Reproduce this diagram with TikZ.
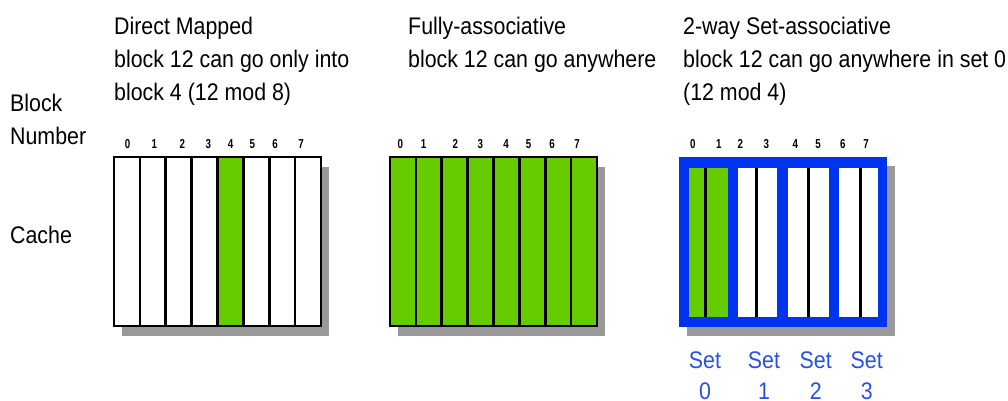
\documentclass[tikz,border=0pt]{standalone}
\usepackage{fontspec}
\setmainfont{Liberation Sans}[FakeStretch=0.89]
\definecolor{cgreen}{RGB}{102,204,0}
\definecolor{cblue}{RGB}{0,51,238}
\definecolor{lblue}{RGB}{40,80,230}
\definecolor{shadowgray}{RGB}{153,153,153}
\begin{document}
\begin{tikzpicture}[x=1pt,y=-1pt,
  hdr/.style={anchor=base west, inner sep=0, font=\fontsize{24}{28}\selectfont},
  num/.style={anchor=base, inner sep=0, font=\fontsize{13}{14}\selectfont\bfseries\addfontfeature{FakeStretch=0.75}},
  setlbl/.style={anchor=base, inner sep=0, text=lblue, font=\fontsize{24}{28}\selectfont},
  cellline/.style={line width=2.6pt},
  setdiv/.style={line width=3pt}]
\useasboundingbox (0,0) rectangle (1008,401);
% left labels
\node[hdr] (lblock) at (10,111.5) {Block};
\node[hdr] (lnumber) at (10,144) {Number};
\node[hdr] (lcache) at (10,243) {Cache};
% headers
\node[hdr] (d1) at (114,35) {Direct Mapped};
\node[hdr] (d2) at (114,67.5) {block 12 can go only into};
\node[hdr] (d3) at (114,100) {block 4 (12 mod 8)};
\node[hdr] (f1) at (408,35) {Fully-associative};
\node[hdr] (f2) at (408,67.5) {block 12 can go anywhere};
\node[hdr] (s1) at (683,35) {2-way Set-associative};
\node[hdr] (s2) at (683,67.5) {block 12 can go anywhere in set 0};
\node[hdr] (s3) at (683,100) {(12 mod 4)};
% block numbers
\foreach \x [count=\i from 0] in {127.7,154.3,182.3,208.3,230.7,252.3,275,301}
  \node[num] (dn\i) at (\x,148.5) {\i};
\foreach \x [count=\i from 0] in {400.3,423.7,455.3,480.3,506,528.7,552,577}
  \node[num] (fn\i) at (\x,148.5) {\i};
\foreach \x [count=\i from 0] in {692.7,718.7,740.3,766.3,795.3,818,842.7,866}
  \node[num] (sn\i) at (\x,148.5) {\i};
% direct mapped cache
\fill[shadowgray] (122,167) rectangle (329,336);
\fill[white] (114,157) rectangle (321,326);
\fill[cgreen] (217.5,157) rectangle (243.375,326);
\foreach \i in {1,...,7} \draw[cellline] (114+\i*25.875,157) -- (114+\i*25.875,326);
\draw[cellline] (114,157) rectangle (321,326);
% fully associative cache
\fill[shadowgray] (398,167) rectangle (605,336);
\fill[cgreen] (390,157) rectangle (597,326);
\foreach \i in {1,...,7} \draw[cellline] (390+\i*25.875,157) -- (390+\i*25.875,326);
\draw[cellline] (390,157) rectangle (597,326);
% set associative cache
\fill[shadowgray] (687,166) rectangle (895,336);
\fill[cblue] (679,157) rectangle (887,327);
\fill[cgreen] (688.5,168) rectangle (727.5,316.5);
\fill[white] (737.5,168) rectangle (777,316.5);
\fill[white] (787.5,168) rectangle (829,316.5);
\fill[white] (838.5,168) rectangle (877.5,316.5);
\foreach \x in {705.3,756.7,808.3,860} \draw[setdiv] (\x,168) -- (\x,316.5);
% set labels
\foreach \x [count=\i from 0] in {705,764,815.7,866.7} {
  \node[setlbl] (set\i) at (\x,368) {Set};
  \node[setlbl] (setn\i) at (\x,399.5) {\i};
}
\end{tikzpicture}
\end{document}
